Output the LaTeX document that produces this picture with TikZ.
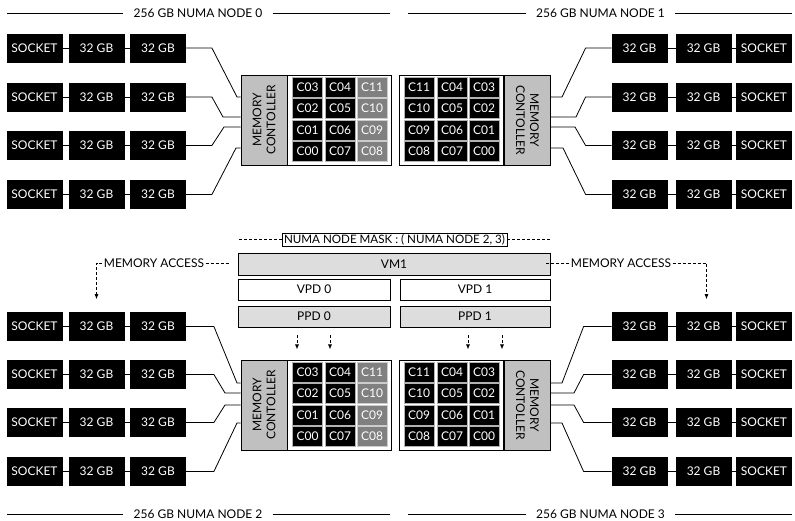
\documentclass[tikz,border=0pt]{standalone}
\usepackage{fontspec}
\setmainfont{Lato}
\usetikzlibrary{arrows.meta}
\definecolor{ctrlgray}{RGB}{192,192,192}
\definecolor{vmgray}{RGB}{221,221,221}
\definecolor{coregray}{RGB}{128,128,128}

\begin{document}
\begin{tikzpicture}[x=1pt, y=-1pt, line width=0.8pt,
  every node/.style={font=\fontsize{12}{14}\selectfont, inner sep=0pt},
  mem/.style={draw=black, fill=black, text=white, minimum width=55, minimum height=28},
  ctrl/.style={draw, fill=ctrlgray, minimum width=46, minimum height=90},
  panel/.style={draw, fill=white, minimum width=104, minimum height=90},
  core/.style={draw=gray!60, line width=0.4pt, fill=black, text=white, minimum width=30, minimum height=20, font=\fontsize{12}{13}\selectfont},
  hot/.style={core, fill=coregray, draw=gray!40},
  bar/.style={draw, minimum height=21, font=\fontsize{12}{13}\selectfont},
  hint/.style={line width=0.7pt, dash pattern=on 3pt off 2pt},
  title/.style={inner xsep=10pt}]
  \useasboundingbox (0,0) rectangle (795,521);

  % node titles
  \foreach \n/\xa/\xm/\xb/\y in {0/7/198/390/13, 1/408/600.5/792/13, 2/7/198/390/514, 3/408/600.5/792/514} {
    \coordinate (n\n a) at (\xa,\y);
    \coordinate (n\n b) at (\xb,\y);
    \node[title] (n\n) at (\xm,\y) {256 GB NUMA NODE \n};
    \draw (n\n a) -- (n\n) -- (n\n b);
  }

  % controllers and core panels
  \foreach \m/\xm/\xp/\yy/\rot in {0/264/339/120/90, 1/527.5/451.5/120/-90, 2/264/339/405/90, 3/527.5/451.5/405/-90} {
    \node[ctrl] (mc\m) at (\xm,\yy) {};
    \node[rotate=\rot, align=center] (mc\m t) at (mc\m) {MEMORY\\CONTOLLER};
    \node[panel] (pn\m) at (\xp,\yy) {};
  }

  \foreach \i/\ka/\kb/\kc in {1/03/04/11, 2/02/05/10, 3/01/06/09, 4/00/07/08}
    \foreach \p/\dy in {0/0, 2/285} {
      \node[core] (k\p\i-a) at (307.5, 65.5+21.5*\i+\dy) {C\ka};
      \node[core] (k\p\i-b) at (340, 65.5+21.5*\i+\dy) {C\kb};
      \node[hot] (k\p\i-c) at (372, 65.5+21.5*\i+\dy) {C\kc};
      \node[core] (k\p\i-d) at (419, 65.5+21.5*\i+\dy) {C\kc};
      \node[core] (k\p\i-e) at (452, 65.5+21.5*\i+\dy) {C\kb};
      \node[core] (k\p\i-f) at (484, 65.5+21.5*\i+\dy) {C\ka};
    }

  % memory rows
  \foreach \r/\y in {1/48, 2/97, 3/145.5, 4/194.5, 5/326.5, 6/374.5, 7/422.5, 8/471.5} {
    \node[mem] (ls\r) at (34.5,\y) {SOCKET};
    \node[mem] (la\r) at (96.5,\y) {32 GB};
    \node[mem] (lb\r) at (158,\y) {32 GB};
    \node[mem] (rb\r) at (639.5,\y) {32 GB};
    \node[mem] (ra\r) at (703.5,\y) {32 GB};
    \node[mem] (rs\r) at (764,\y) {SOCKET};
    \draw (ls\r) -- (la\r) -- (lb\r);
    \draw (rs\r) -- (ra\r) -- (rb\r);
  }

  \foreach \r/\dx/\xc/\yc/\ml/\mr in {1/26/237/97/0/1, 2/26/223/117/0/1, 3/26/224/127/0/1, 4/26/236/148/0/1,
                                      5/28/237/383/2/3, 6/28/225/393/2/3, 7/28/225/405/2/3, 8/28/237/423/2/3} {
    \draw (lb\r.east) -- ++(\dx,0) -- (\xc,\yc) -- (mc\ml.west |- 0,\yc);
    \draw (rb\r.west) -- ++(-\dx,0) -- ({799-\xc},\yc) -- (mc\mr.east |- 0,\yc);
  }

  % vm placement
  \node[bar, fill=vmgray, minimum width=312, minimum height=22] (vm) at (394,264) {VM1};
  \node[bar, fill=white, minimum width=152] (vpd0) at (314,289.5) {VPD 0};
  \node[bar, fill=white, minimum width=150] (vpd1) at (475,289.5) {VPD 1};
  \node[bar, fill=vmgray, minimum width=152] (ppd0) at (314,316.5) {PPD 0};
  \node[bar, fill=vmgray, minimum width=150] (ppd1) at (475,316.5) {PPD 1};
  \node[draw, fill=white, line width=0.6pt, inner xsep=2pt, minimum height=13, font=\fontsize{11.6}{13}\selectfont] (mask) at (394.5,239.5) {NUMA NODE MASK : ( NUMA NODE 2, 3)};
  \draw[hint] (mask.west) -- (mask.west -| vm.west);
  \draw[hint] (mask.east) -- (mask.east -| vm.east);

  \foreach \n/\s in {0/-17, 0/16, 1/-7, 1/27}
    \draw[hint, -{Latex[length=5pt,width=4pt]}] ([xshift=\s pt, yshift=-8pt]ppd\n.south) -- ++(0,14);

  % memory access
  \node[font=\fontsize{12}{14}\selectfont, inner xsep=1pt] (acc0) at (154,263) {MEMORY ACCESS};
  \node[font=\fontsize{12}{14}\selectfont, inner xsep=1pt] (acc1) at (621,263) {MEMORY ACCESS};
  \draw[hint] (acc0.east) -- ++(23,0);
  \draw[hint, -{Latex[length=5pt,width=4pt]}] (acc0.west) -| ([yshift=13pt]la5.north);
  \draw[hint] (acc1.west) -- ++(-23,0);
  \draw[hint, -{Latex[length=5pt,width=4pt]}] (acc1.east) -| ([xshift=3pt, yshift=13pt]ra5.north);
\end{tikzpicture}
\end{document}
